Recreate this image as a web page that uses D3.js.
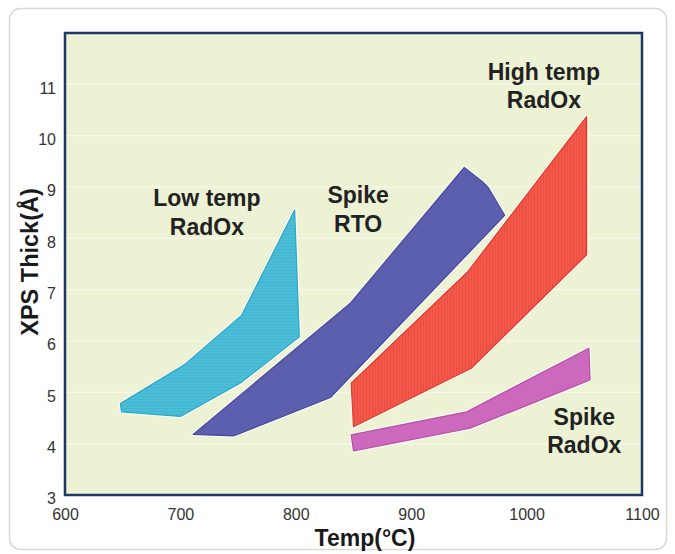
<!DOCTYPE html>
<html>
<head>
<meta charset="utf-8">
<script src="https://cdn.jsdelivr.net/npm/d3@7"></script>
<style>
  html, body { margin: 0; padding: 0; background: #ffffff; }
  svg { display: block; }
  text { font-family: "Liberation Sans", Arial, Helvetica, sans-serif; }
</style>
</head>
<body>
<svg id="chart" width="675" height="554"></svg>
<script>
// Process windows: oxide thickness (Å) against temperature (°C)
const xTicks = [600, 700, 800, 900, 1000, 1100];
const yTicks = [3, 4, 5, 6, 7, 8, 9, 10, 11];

const lowTempRadOx = [[648, 4.78], [703, 5.53], [753, 6.5], [799, 8.55], [803, 6.08], [752, 5.18], [700, 4.53], [649, 4.62]];
const spikeRTO = [[711, 4.18], [746, 4.15], [830, 4.9], [981, 8.45], [967, 8.98], [962, 9.1], [946, 9.38], [847, 6.73]];
const highTempRadOx = [[850, 4.33], [952, 5.47], [1052, 7.68], [1052, 10.37], [949, 7.35], [848, 5.18]];
const spikeRadOx = [[850, 3.86], [951, 4.3], [1055, 5.24], [1054, 5.86], [948, 4.62], [848, 4.17]];

const regionNames = ["Low temp RadOx", "Spike RTO", "High temp RadOx", "Spike RadOx"];
const regionLabels = [["Low temp", "RadOx"], ["Spike", "RTO"], ["High temp", "RadOx"], ["Spike", "RadOx"]];
const labelAnchors = [[723, 8.79], [854, 8.84], [1015, 11.25], [1050, 4.53]];

const xTitle = "Temp(°C)";
const yTitle = "XPS Thick(Å)";

const svg = d3.select("#chart");

// card behind the chart
svg.append("rect")
  .attr("x", 9.5).attr("y", 8.5).attr("width", 657).attr("height", 541)
  .attr("rx", 11).attr("ry", 11)
  .attr("fill", "#ffffff").attr("stroke", "#d9d9d9").attr("stroke-width", 1.5);

const x = d3.scaleLinear().domain([600, 1100]).range([65, 642]);
const y = d3.scaleLinear().domain([3, 12]).range([495, 33]);

// fill patterns
const defs = svg.append("defs");
const hp = defs.append("pattern").attr("id", "hstripe")
  .attr("patternUnits", "userSpaceOnUse").attr("width", 6).attr("height", 3);
hp.append("rect").attr("width", 6).attr("height", 3).attr("fill", "#4cbdd7");
hp.append("rect").attr("width", 6).attr("height", 1).attr("fill", "#43b6d2");

const vp = defs.append("pattern").attr("id", "vstripe")
  .attr("patternUnits", "userSpaceOnUse").attr("width", 3).attr("height", 6);
vp.append("rect").attr("width", 3).attr("height", 6).attr("fill", "#f3594a");
vp.append("rect").attr("width", 1).attr("height", 6).attr("fill", "#eb4e41");

// plot background
svg.append("rect")
  .attr("x", x(600)).attr("y", y(12))
  .attr("width", x(1100) - x(600)).attr("height", y(3) - y(12))
  .attr("fill", "#edf2d5");

// faint gridlines
svg.append("g").selectAll("line")
  .data(yTicks.filter(v => v > 3))
  .join("line")
  .attr("x1", x(600)).attr("x2", x(1100))
  .attr("y1", d => y(d)).attr("y2", d => y(d))
  .attr("stroke", "#f7f9ea").attr("stroke-width", 1.2);

const regions = [
  { pts: lowTempRadOx, fill: "url(#hstripe)", stroke: "#2ba6c9" },
  { pts: spikeRTO, fill: "#5b5fae", stroke: "#444a9c" },
  { pts: highTempRadOx, fill: "url(#vstripe)", stroke: "#e3392e" },
  { pts: spikeRadOx, fill: "#cd69bd", stroke: "#b650a4" }
];

const line = d3.line().x(d => x(d[0])).y(d => y(d[1])).curve(d3.curveLinearClosed);

const g = svg.append("g");
regions.forEach((r, i) => {
  // light halo around each region
  g.append("path").attr("d", line(r.pts))
    .attr("fill", "none").attr("stroke", "#fbfcf2").attr("stroke-width", 3.5)
    .attr("stroke-linejoin", "round");
  g.append("path").attr("d", line(r.pts))
    .attr("class", "region").attr("data-name", regionNames[i])
    .attr("fill", r.fill).attr("stroke", r.stroke).attr("stroke-width", 1.2)
    .attr("stroke-linejoin", "round");
});

// region labels
const lbl = svg.append("g");
regionLabels.forEach((lines, i) => {
  const a = labelAnchors[i];
  lines.forEach((t, j) => {
    lbl.append("text")
      .attr("x", x(a[0])).attr("y", y(a[1]) + j * 28.5)
      .attr("dy", "0.36em")
      .attr("text-anchor", "middle")
      .attr("font-size", 23).attr("font-weight", "bold")
      .attr("fill", "#222222")
      .text(t);
  });
});

// plot frame
svg.append("rect")
  .attr("x", x(600)).attr("y", y(12))
  .attr("width", x(1100) - x(600)).attr("height", y(3) - y(12))
  .attr("fill", "none").attr("stroke", "#1d3766").attr("stroke-width", 2.5);

// axes
const xAxis = svg.append("g").attr("transform", `translate(0,${y(3)})`)
  .call(d3.axisBottom(x).tickValues(xTicks).tickSize(0).tickPadding(14).tickFormat(d3.format("d")));
xAxis.select(".domain").remove();
xAxis.selectAll("text").attr("font-size", 16).attr("fill", "#333333")
  .attr("font-family", "Liberation Sans, Arial, sans-serif");

const yAxis = svg.append("g").attr("transform", `translate(${x(600)},0)`)
  .call(d3.axisLeft(y).tickValues(yTicks).tickSize(0).tickPadding(9).tickFormat(d3.format("d")));
yAxis.select(".domain").remove();
yAxis.selectAll("text").attr("font-size", 16).attr("fill", "#333333").attr("dy", "0.55em")
  .attr("font-family", "Liberation Sans, Arial, sans-serif");

// axis titles
svg.append("text")
  .attr("x", 365).attr("y", 545.5)
  .attr("text-anchor", "middle")
  .attr("font-size", 23).attr("font-weight", "bold").attr("fill", "#1a1a1a")
  .text(xTitle);

svg.append("text")
  .attr("transform", "translate(38,262) rotate(-90)")
  .attr("text-anchor", "middle")
  .attr("font-size", 23.5).attr("font-weight", "bold").attr("fill", "#1a1a1a")
  .text(yTitle);
</script>
</body>
</html>
